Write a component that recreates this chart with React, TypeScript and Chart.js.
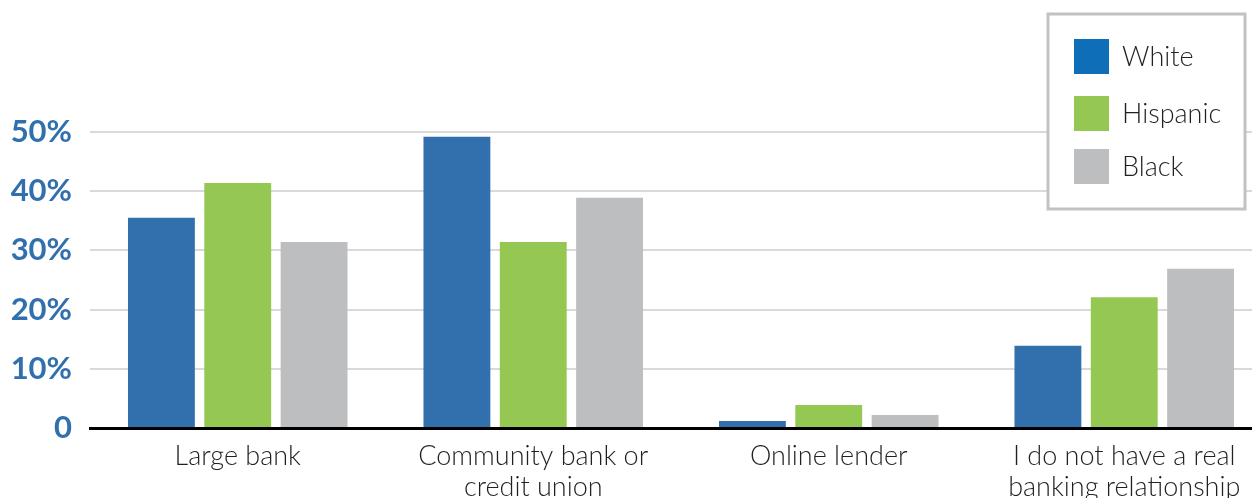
import React, { useEffect, useRef } from "react";
import { Chart, registerables } from "chart.js";

Chart.register(...registerables);

const categories: (string | string[])[] = [
  "Large bank",
  ["Community bank or", "credit union"],
  "Online lender",
  ["I do not have a real", "banking relationship"],
];
const seriesNames = ["White", "Hispanic", "Black"];
const whiteValues = [35.5, 49.2, 1.2, 13.9];
const hispanicValues = [41.4, 31.4, 3.9, 22.1];
const blackValues = [31.4, 38.9, 2.2, 26.9];
const barColors = ["#3270AD", "#94C852", "#BDBEC0"];
const legendColors = ["#0E6EB8", "#94C852", "#BDBEC0"];
const yTickValues = [0, 10, 20, 30, 40, 50];
const yTickLabels = ["0", "10%", "20%", "30%", "40%", "50%"];

const legendPlugin = {
  id: "boxLegend",
  afterDraw(chart: any) {
    const ctx = chart.ctx;
    ctx.save();
    ctx.fillStyle = "#FFFFFF";
    ctx.fillRect(1048, 14, 197, 195);
    ctx.strokeStyle = "#C2C2C2";
    ctx.lineWidth = 3;
    ctx.strokeRect(1048, 14, 197, 195);
    const rows = [39, 96, 149];
    ctx.font = "300 27px Lato";
    ctx.textBaseline = "middle";
    ctx.textAlign = "left";
    chart.data.datasets.forEach((ds: any, i: number) => {
      ctx.fillStyle = legendColors[i];
      ctx.fillRect(1074, rows[i], 35, 35);
      ctx.fillStyle = "#231F20";
      ctx.fillText(ds.label, 1122, rows[i] + 18);
    });
    ctx.restore();
  },
};

export default function App() {
  const ref = useRef<HTMLCanvasElement>(null);
  useEffect(() => {
    if (!ref.current) return;
    const values = [whiteValues, hispanicValues, blackValues];
    const chart = new Chart(ref.current, {
      type: "bar",
      data: {
        labels: categories as any,
        datasets: seriesNames.map((name, i) => ({
          label: name,
          data: values[i],
          backgroundColor: barColors[i],
          categoryPercentage: 0.775,
          barPercentage: 0.876,
        })),
      },
      options: {
        animation: false,
        responsive: false,
        maintainAspectRatio: false,
        layout: { padding: { top: 132, right: 0, left: 0, bottom: 0 } },
        plugins: { legend: { display: false }, tooltip: { enabled: false } },
        scales: {
          x: {
            grid: { display: false, drawTicks: false },
            border: { display: true, color: "#000000", width: 3 },
            ticks: {
              color: "#231F20",
              font: { family: "Lato", size: 27, weight: "300", lineHeight: "31px" },
              padding: 13,
              maxRotation: 0,
              autoSkip: false,
            },
            afterFit: (s: any) => {
              s.height = 70;
            },
          },
          y: {
            min: 0,
            max: 50,
            afterBuildTicks: (s: any) => {
              s.ticks = yTickValues.map((v) => ({ value: v }));
            },
            grid: { color: "#D9D9D9", lineWidth: 2, drawTicks: false },
            border: { display: false },
            ticks: {
              color: "#3070AD",
              font: { family: "Lato", size: 31, weight: "bold" },
              padding: 18,
              callback: (v: any) => {
                const idx = yTickValues.indexOf(Number(v));
                return idx >= 0 ? yTickLabels[idx] : "";
              },
            },
            afterFit: (s: any) => {
              s.width = 90;
            },
          },
        },
      },
      plugins: [legendPlugin],
    });
    return () => chart.destroy();
  }, []);
  return (
    <div
      style={{
        position: "fixed",
        left: 0,
        top: 0,
        width: 1252,
        height: 498,
        overflow: "hidden",
        background: "#FFFFFF",
      }}
    >
      <canvas
        ref={ref}
        width={1272}
        height={498}
        style={{ width: 1272, height: 498, display: "block" }}
      />
    </div>
  );
}
